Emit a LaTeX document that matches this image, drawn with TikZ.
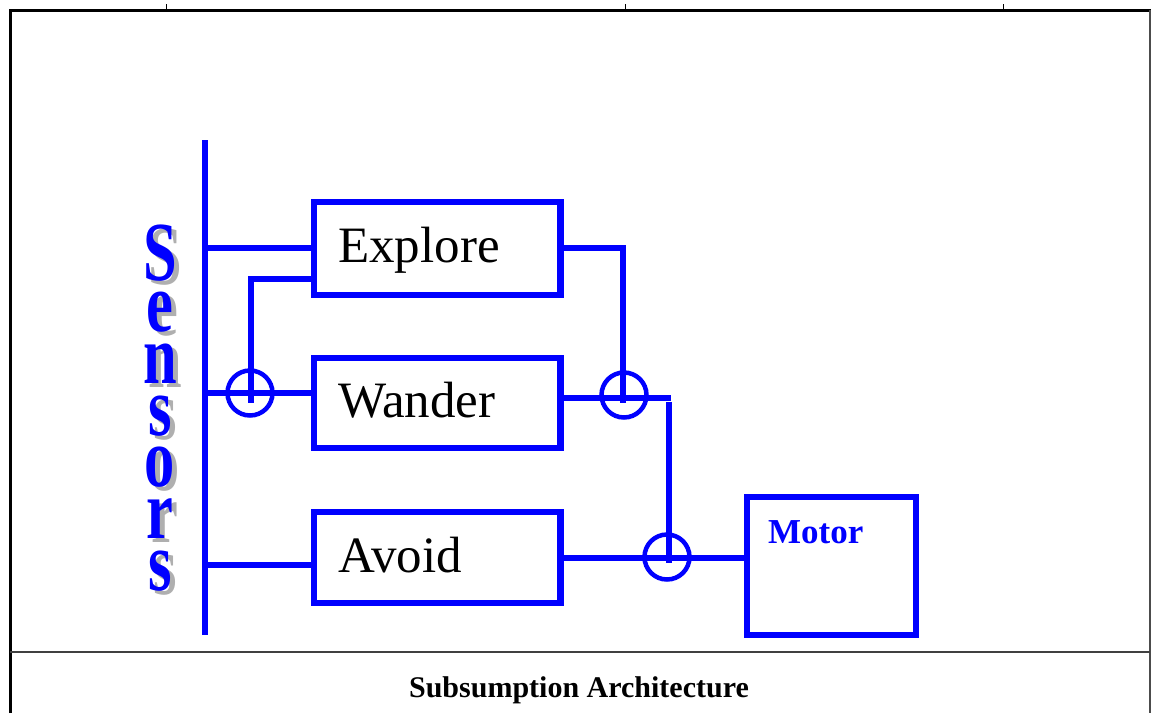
\documentclass[tikz,border=0pt]{standalone}
\usepackage{fontspec}
\setmainfont{Liberation Serif}
\usepackage{graphicx}
\definecolor{dblue}{RGB}{0,0,255}
\definecolor{shad}{RGB}{175,175,175}
\newcommand{\senslet}[1]{\hbox to 0pt{\hss\rlap{\hspace{5pt}\raisebox{-4pt}{\color{shad}\scalebox{0.72}[1]{#1}}}{\color{dblue}\scalebox{0.72}[1]{#1}}\hss}}
\begin{document}
\begin{tikzpicture}[x=1pt,y=-1pt,
  box/.style={draw=dblue,line width=6.5pt,rectangle,inner sep=0pt,minimum width=246.5pt},
  conn/.style={draw=dblue,line width=6pt},
  junc/.style={draw=dblue,line width=4.5pt,circle,inner sep=0pt,minimum size=45pt},
  lbl/.style={anchor=base west,inner sep=0pt,font=\fontsize{51}{51}\selectfont},
  senstext/.style={anchor=base,inner sep=0pt,font=\fontsize{84}{84}\selectfont\bfseries},
  frame/.style={draw=black,line width=3pt}]
\useasboundingbox (0,0) rectangle (1157,713);
% frame
\draw[frame] (10,713) -- (10,10) -- (1151,10);
\draw[draw=black!70,line width=1.8pt] (1150,10) -- (1150,713);
\draw[draw=black!75,line width=1.8pt] (10,652) -- (1150,652);
\foreach \tx in {166,625,1003} \draw[black,line width=1pt] (\tx,4) -- (\tx,10);
% caption
\node[anchor=base,inner sep=0pt,font=\fontsize{30}{30}\selectfont\bfseries] (cap) at (579,697) {Subsumption Architecture};
% Sensors label (one stacked text)
\node[senstext] (sens) at (160,280) {\vtop{\baselineskip=51.7pt\lineskiplimit=-1000pt
  \senslet{S}\senslet{e}\senslet{n}\senslet{s}\senslet{o}\senslet{r}\senslet{s}}};
% sensor bar
\coordinate (bartop) at (205,140);
\coordinate (barbot) at (205,635);
\draw[conn,line width=6.5pt] (bartop) -- (barbot);
% boxes
\node[box,minimum height=93pt] (explore) at (437.25,248.5) {};
\node[box,minimum height=90pt] (wander) at (437.25,403) {};
\node[box,minimum height=91pt] (avoid) at (437.25,557.5) {};
\node[box,minimum width=169pt,minimum height=138pt] (motor) at (831.5,566) {};
\node[lbl] (texp) at (338,262) {Explore};
\node[lbl] (twan) at (338,417) {Wander};
\node[lbl] (tavo) at (338,572) {Avoid};
\node[anchor=base west,inner sep=0pt,font=\fontsize{35}{35}\selectfont\bfseries,text=dblue] (tmot) at (768,543) {Motor};
% junctions
\node[junc] (c1) at (250,393) {};
\node[junc] (c2) at (624,395) {};
\node[junc] (c3) at (667,557) {};
% connectors
\coordinate (s1) at (205,248);
\coordinate (s2) at (205,393);
\coordinate (s3) at (205,565);
\draw[conn] (s1) -- (s1 -| explore.west);
\coordinate (e2) at (314,279);
\coordinate (k1) at (251,279);
\coordinate (k1e) at (251,403);
\draw[conn] (e2) -- (k1) -- (k1e);
\draw[conn] (s2) -- (s2 -| wander.west);
\draw[conn] (s3) -- (316,565);
\coordinate (eo) at (560,248);
\coordinate (k2) at (623,248);
\coordinate (k2e) at (623,403);
\draw[conn] (eo) -- (k2) -- (k2e);
\coordinate (wo) at (560,398);
\coordinate (wo2) at (671,398);
\draw[conn] (wo) -- (wo2);
\coordinate (k3) at (669,402);
\coordinate (k3e) at (669,563);
\draw[conn] (k3) -- (k3e);
\coordinate (ao) at (560,558);
\draw[conn] (ao) -- (ao -| motor.west);
\end{tikzpicture}
\end{document}
